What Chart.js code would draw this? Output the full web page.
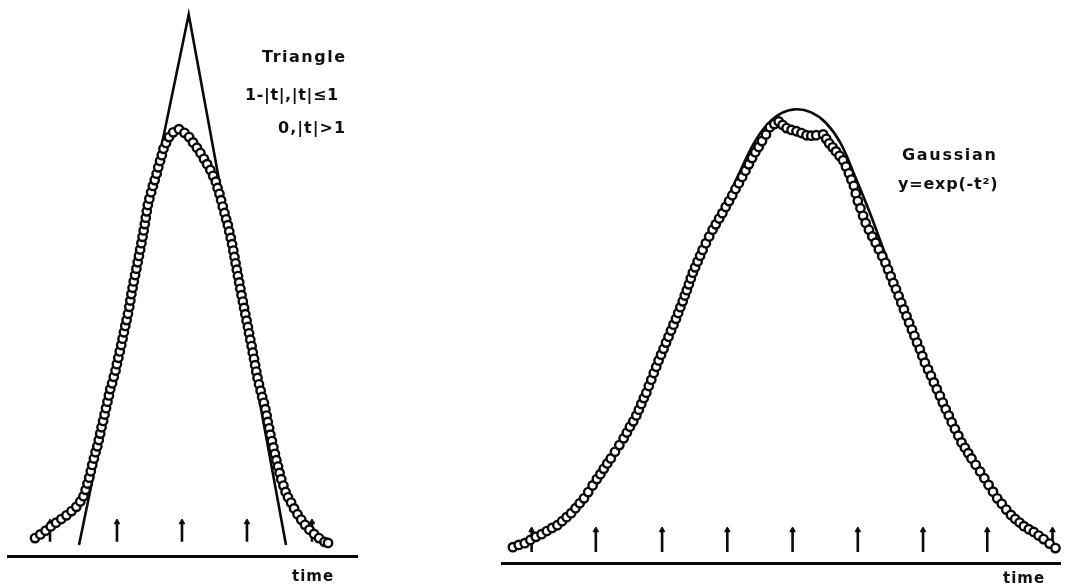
<!DOCTYPE html>
<html>
<head>
<meta charset="utf-8">
<script src="https://cdn.jsdelivr.net/npm/chart.js@4.4.1/dist/chart.umd.min.js"></script>
<style>
  html, body { margin: 0; padding: 0; background: #ffffff; }
  body { width: 1067px; height: 586px; position: relative; overflow: hidden; }
  canvas { position: absolute; top: 0; }
  #triCanvas { left: 0; }
  #gaussCanvas { left: 480px; }
  .lbl { position: absolute; font-family: "DejaVu Sans", sans-serif; font-weight: bold; color: #111; white-space: nowrap; line-height: 1; }
</style>
</head>
<body>
<canvas id="triCanvas" width="370" height="586"></canvas>
<canvas id="gaussCanvas" width="587" height="586"></canvas>

<div class="lbl" style="left:262px; top:49px; font-size:16px; letter-spacing:1.5px;">Triangle</div>
<div class="lbl" style="left:245px; top:87px; font-size:16px; letter-spacing:0.6px;">1-|t|,|t|≤1</div>
<div class="lbl" style="left:278px; top:120px; font-size:16px; letter-spacing:1px;">0,|t|&gt;1</div>
<div class="lbl" style="left:292px; top:569px; font-size:15px; letter-spacing:1px;">time</div>

<div class="lbl" style="left:902px; top:147px; font-size:16px; letter-spacing:1.7px;">Gaussian</div>
<div class="lbl" style="left:898px; top:176px; font-size:16px; letter-spacing:0.8px;">y=exp(-t²)</div>
<div class="lbl" style="left:1003px; top:571px; font-size:15px; letter-spacing:1px;">time</div>

<script>
// ---------------- Triangle panel data ----------------
const triLineT = [-1.0, 0.06, 1.0];
const triLineV = [0, 1.0, 0];

const triCircT = [
  -1.425,-1.374,-1.323,-1.273,-1.222,-1.171,-1.121,-1.072,-1.026,-0.988,
  -0.957,-0.936,-0.918,-0.901,-0.886,-0.872,-0.856,-0.840,-0.823,-0.809,
  -0.795,-0.782,-0.767,-0.753,-0.739,-0.725,-0.711,-0.698,-0.680,-0.664,
  -0.647,-0.634,-0.620,-0.606,-0.592,-0.579,-0.566,-0.553,-0.540,-0.527,
  -0.514,-0.504,-0.494,-0.482,-0.471,-0.458,-0.445,-0.433,-0.421,-0.409,
  -0.397,-0.386,-0.375,-0.364,-0.355,-0.345,-0.335,-0.320,-0.303,-0.286,
  -0.268,-0.250,-0.234,-0.217,-0.200,-0.184,-0.159,-0.130,-0.090,-0.034,
   0.019, 0.064, 0.102, 0.139, 0.173, 0.207, 0.238, 0.269, 0.296, 0.322,
   0.339, 0.357, 0.373, 0.389, 0.406, 0.422, 0.438, 0.452, 0.466, 0.479,
   0.491, 0.502, 0.513, 0.525, 0.536, 0.548, 0.559, 0.570, 0.583, 0.595,
   0.607, 0.619, 0.632, 0.643, 0.655, 0.668, 0.679, 0.691, 0.702, 0.713,
   0.725, 0.739, 0.755, 0.770, 0.786, 0.801, 0.813, 0.824, 0.837, 0.849,
   0.864, 0.878, 0.893, 0.907, 0.923, 0.938, 0.954, 0.975, 0.996, 1.019,
   1.049, 1.078, 1.111, 1.147, 1.184, 1.226, 1.271, 1.319, 1.372, 1.406
];
const triCircV = [
  0.013,0.020,0.027,0.035,0.042,0.049,0.056,0.064,0.072,0.082,
  0.092,0.104,0.116,0.127,0.139,0.151,0.163,0.175,0.186,0.198,
  0.210,0.222,0.234,0.246,0.258,0.270,0.282,0.294,0.305,0.317,
  0.329,0.341,0.353,0.365,0.377,0.389,0.401,0.413,0.424,0.436,
  0.449,0.461,0.473,0.485,0.497,0.509,0.521,0.533,0.545,0.557,
  0.569,0.581,0.593,0.605,0.617,0.629,0.641,0.653,0.665,0.677,
  0.688,0.700,0.712,0.724,0.735,0.747,0.758,0.769,0.778,0.784,
  0.777,0.769,0.759,0.749,0.739,0.728,0.718,0.707,0.696,0.685,
  0.673,0.662,0.650,0.638,0.626,0.614,0.603,0.591,0.579,0.567,
  0.555,0.543,0.531,0.519,0.507,0.495,0.483,0.471,0.459,0.447,
  0.435,0.423,0.411,0.399,0.387,0.375,0.363,0.351,0.339,0.327,
  0.315,0.303,0.291,0.279,0.268,0.256,0.244,0.232,0.220,0.208,
  0.196,0.184,0.172,0.160,0.148,0.136,0.124,0.112,0.100,0.090,
  0.080,0.069,0.058,0.048,0.038,0.029,0.021,0.013,0.006,0.004
];

const triArrowT = [-1.28, -0.633, -0.005, 0.623, 1.251];
const triArrowBase = 0.006;
const triArrowTop = 0.043;

// ---------------- Gaussian panel data ----------------
const gaussLineT = [
  -1.939,-1.757,-1.622,-1.486,-1.351,-1.216,-1.081,-0.946,-0.811,-0.676,
  -0.574,-0.480,-0.385,-0.290,-0.195,-0.100, 0.000, 0.100, 0.200, 0.300,
   0.400, 0.500, 0.608, 0.696, 0.784, 0.878, 0.980, 1.081, 1.196, 1.351,
   1.486, 1.622, 1.770
];
const gaussLineV = [
  0.020,0.047,0.073,0.118,0.176,0.249,0.327,0.434,0.546,0.661,
  0.733,0.795,0.862,0.925,0.968,0.992,1.000,0.993,0.970,0.925,
  0.850,0.770,0.675,0.600,0.527,0.443,0.365,0.287,0.223,0.143,
  0.087,0.056,0.022
];

const gaussCircT = [
  -1.939,-1.899,-1.858,-1.820,-1.782,-1.743,-1.707,-1.671,-1.635,-1.603,
  -1.572,-1.541,-1.511,-1.482,-1.453,-1.424,-1.394,-1.365,-1.341,-1.318,
  -1.294,-1.270,-1.241,-1.211,-1.182,-1.160,-1.139,-1.116,-1.095,-1.078,
  -1.061,-1.044,-1.027,-1.010,-0.993,-0.976,-0.959,-0.943,-0.926,-0.909,
  -0.892,-0.875,-0.858,-0.841,-0.824,-0.809,-0.794,-0.778,-0.764,-0.750,
  -0.736,-0.723,-0.709,-0.693,-0.676,-0.659,-0.642,-0.620,-0.597,-0.574,
  -0.552,-0.529,-0.507,-0.484,-0.461,-0.439,-0.417,-0.394,-0.372,-0.349,
  -0.326,-0.304,-0.282,-0.259,-0.236,-0.209,-0.182,-0.152,-0.122,-0.095,
  -0.068,-0.034, 0.000, 0.034, 0.068, 0.101, 0.135, 0.182, 0.203, 0.223,
   0.247, 0.270, 0.294, 0.318, 0.338, 0.358, 0.375, 0.392, 0.405, 0.419,
   0.437, 0.455, 0.473, 0.495, 0.518, 0.541, 0.563, 0.586, 0.608, 0.626,
   0.644, 0.662, 0.680, 0.698, 0.716, 0.734, 0.752, 0.770, 0.789, 0.806,
   0.824, 0.843, 0.860, 0.878, 0.899, 0.919, 0.939, 0.959, 0.980, 1.000,
   1.020, 1.041, 1.061, 1.083, 1.106, 1.128, 1.151, 1.174, 1.196, 1.225,
   1.255, 1.284, 1.313, 1.343, 1.372, 1.403, 1.434, 1.466, 1.495, 1.525,
   1.554, 1.588, 1.622, 1.655, 1.689, 1.730, 1.770
];
const gaussCircV = [
  0.022,0.027,0.031,0.038,0.045,0.051,0.058,0.065,0.071,0.080,
  0.089,0.098,0.109,0.120,0.131,0.145,0.160,0.174,0.185,0.197,
  0.209,0.220,0.235,0.250,0.265,0.278,0.291,0.303,0.316,0.329,
  0.342,0.355,0.367,0.382,0.396,0.411,0.425,0.439,0.452,0.465,
  0.479,0.492,0.506,0.519,0.532,0.545,0.558,0.571,0.584,0.596,
  0.609,0.622,0.635,0.647,0.660,0.673,0.686,0.701,0.716,0.731,
  0.743,0.756,0.768,0.782,0.795,0.808,0.822,0.835,0.849,0.863,
  0.877,0.891,0.904,0.916,0.929,0.944,0.960,0.967,0.973,0.965,
  0.958,0.954,0.951,0.947,0.942,0.941,0.942,0.944,0.934,0.924,
  0.915,0.906,0.896,0.886,0.872,0.857,0.843,0.829,0.812,0.795,
  0.779,0.762,0.746,0.731,0.716,0.702,0.687,0.672,0.657,0.642,
  0.627,0.612,0.598,0.583,0.568,0.553,0.538,0.523,0.508,0.494,
  0.479,0.464,0.449,0.434,0.419,0.405,0.390,0.375,0.360,0.345,
  0.330,0.316,0.301,0.286,0.271,0.256,0.244,0.232,0.220,0.206,
  0.191,0.176,0.161,0.146,0.131,0.119,0.106,0.094,0.085,0.077,
  0.069,0.062,0.056,0.048,0.040,0.030,0.020
];

const gaussArrowT = [-1.811, -1.372, -0.919, -0.473, -0.027, 0.419, 0.865, 1.304, 1.750];
const gaussArrowBase = 0.011;
const gaussArrowTop = 0.060;

// ---------------- helpers ----------------
function zip(ts, vs) { return ts.map((t, i) => ({ x: t, y: vs[i] })); }
function shafts(ts, base, top) {
  const out = [];
  ts.forEach(t => { out.push({ x: t, y: base }, { x: t, y: top }, { x: t, y: null }); });
  return out;
}
function heads(ts, top) { return ts.map(t => ({ x: t, y: top })); }

const INK = '#0a0a0a';

function makeChart(id, cfg) {
  return new Chart(document.getElementById(id), {
    type: 'scatter',
    data: {
      datasets: [
        { // measured / reconstructed samples (drawn on top)
          data: zip(cfg.circT, cfg.circV),
          showLine: false,
          pointStyle: 'circle',
          pointRadius: 4.2,
          pointBorderWidth: 2.4,
          pointBorderColor: INK,
          pointBackgroundColor: '#ffffff',
          clip: false
        },
        { // arrow heads
          data: heads(cfg.arrowT, cfg.arrowTop),
          showLine: false,
          pointStyle: 'triangle',
          pointRadius: 3.2,
          pointBorderWidth: 1,
          pointBorderColor: INK,
          pointBackgroundColor: INK,
          clip: false
        },
        { // arrow shafts
          data: shafts(cfg.arrowT, cfg.arrowBase, cfg.arrowTop),
          showLine: true,
          spanGaps: false,
          borderColor: INK,
          borderWidth: 2.6,
          pointRadius: 0,
          clip: false
        },
        { // theoretical function
          data: zip(cfg.lineT, cfg.lineV),
          showLine: true,
          borderColor: INK,
          borderWidth: 2.6,
          pointRadius: 0,
          tension: cfg.smooth ? 0.4 : 0,
          clip: false
        }
      ]
    },
    options: {
      responsive: false,
      animation: false,
      events: [],
      layout: { padding: cfg.padding },
      plugins: { legend: { display: false }, tooltip: { enabled: false }, title: { display: false } },
      scales: {
        x: {
          type: 'linear',
          min: cfg.xMin, max: cfg.xMax,
          grid: { display: false, drawTicks: false },
          ticks: { display: false },
          border: { display: true, color: INK, width: 3 },
          title: { display: false }
        },
        y: {
          type: 'linear',
          display: false,
          min: cfg.yMin, max: cfg.yMax
        }
      }
    }
  });
}

makeChart('triCanvas', {
  circT: triCircT, circV: triCircV,
  lineT: triLineT, lineV: triLineV, smooth: false,
  arrowT: triArrowT, arrowBase: triArrowBase, arrowTop: triArrowTop,
  xMin: -1.686, xMax: 1.686, yMin: -0.0207, yMax: 1.015,
  padding: { left: 8, right: 13, top: 5, bottom: 30 }
});

makeChart('gaussCanvas', {
  circT: gaussCircT, circV: gaussCircV,
  lineT: gaussLineT, lineV: gaussLineV, smooth: true,
  arrowT: gaussArrowT, arrowBase: gaussArrowBase, arrowTop: gaussArrowTop,
  xMin: -2.0135, xMax: 1.804, yMin: -0.01336, yMax: 1.2294,
  padding: { left: 22, right: 0, top: 5, bottom: 23 }
});
</script>
</body>
</html>
